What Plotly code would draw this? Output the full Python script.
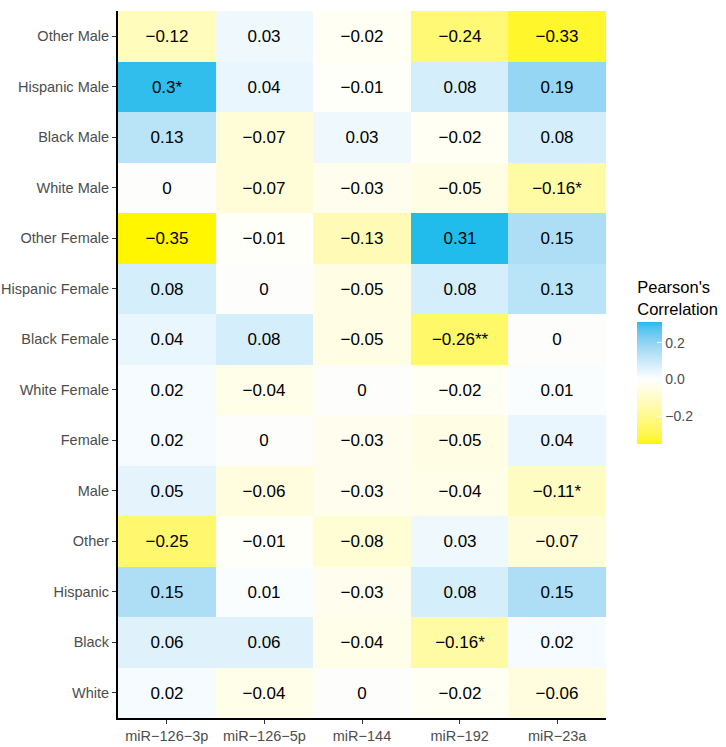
import numpy as np
import plotly.graph_objects as go

rows = ["Other Male", "Hispanic Male", "Black Male", "White Male", "Other Female",
        "Hispanic Female", "Black Female", "White Female", "Female", "Male",
        "Other", "Hispanic", "Black", "White"]
cols = ["miR\u2212126\u22123p", "miR\u2212126\u22125p", "miR\u2212144", "miR\u2212192", "miR\u221223a"]

other_male = [-0.12, 0.03, -0.02, -0.24, -0.33]
hispanic_male = [0.30, 0.04, -0.01, 0.08, 0.19]
black_male = [0.13, -0.07, 0.03, -0.02, 0.08]
white_male = [0.0, -0.07, -0.03, -0.05, -0.16]
other_female = [-0.35, -0.01, -0.13, 0.31, 0.15]
hispanic_female = [0.08, 0.0, -0.05, 0.08, 0.13]
black_female = [0.04, 0.08, -0.05, -0.26, 0.0]
white_female = [0.02, -0.04, 0.0, -0.02, 0.01]
female = [0.02, 0.0, -0.03, -0.05, 0.04]
male = [0.05, -0.06, -0.03, -0.04, -0.11]
other = [-0.25, -0.01, -0.08, 0.03, -0.07]
hispanic = [0.15, 0.01, -0.03, 0.08, 0.15]
black = [0.06, 0.06, -0.04, -0.16, 0.02]
white = [0.02, -0.04, 0.0, -0.02, -0.06]

# significance stars per row
stars_hispanic_male = ["*", "", "", "", ""]
stars_white_male = ["", "", "", "", "*"]
stars_black_female = ["", "", "", "**", ""]
stars_male = ["", "", "", "", "*"]
stars_black = ["", "", "", "*", ""]
empty = ["", "", "", "", ""]

values = [other_male, hispanic_male, black_male, white_male, other_female,
          hispanic_female, black_female, white_female, female, male,
          other, hispanic, black, white]
stars = [empty, stars_hispanic_male, empty, stars_white_male, empty,
         empty, stars_black_female, empty, empty, stars_male,
         empty, empty, stars_black, empty]


def fmt(v):
    s = ("%.2f" % v).rstrip("0").rstrip(".")
    if s in ("-0", ""):
        s = "0"
    return s.replace("-", "\u2212")


text = [[fmt(v) + st for v, st in zip(vr, sr)] for vr, sr in zip(values, stars)]

# Lab interpolation helpers (ggplot-like gradient2)
def srgb_to_lin(c):
    c = np.asarray(c) / 255.0
    return np.where(c <= 0.04045, c / 12.92, ((c + 0.055) / 1.055) ** 2.4)

def lin_to_srgb(c):
    c = np.where(c <= 0.0031308, 12.92 * c, 1.055 * np.clip(c, 0, None) ** (1 / 2.4) - 0.055)
    return np.clip(np.round(c * 255), 0, 255)

M = np.array([[0.4124, 0.3576, 0.1805], [0.2126, 0.7152, 0.0722], [0.0193, 0.1192, 0.9505]])
Minv = np.linalg.inv(M)
WP = np.array([0.95047, 1.0, 1.08883])

def f(t):
    return np.where(t > 0.008856, np.cbrt(t), 7.787 * t + 16 / 116)

def finv(t):
    return np.where(t > 0.206893, t ** 3, (t - 16 / 116) / 7.787)

def rgb_to_lab(rgb):
    xyz = M @ srgb_to_lin(rgb) / WP
    fx, fy, fz = f(xyz)
    return np.array([116 * fy - 16, 500 * (fx - fy), 200 * (fy - fz)])

def lab_to_rgb(lab):
    L, a, b = lab
    fy = (L + 16) / 116
    fx = fy + a / 500
    fz = fy - b / 200
    xyz = finv(np.array([fx, fy, fz])) * WP
    return lin_to_srgb(Minv @ xyz)

def hex2rgb(h):
    h = h.lstrip("#")
    return [int(h[i:i + 2], 16) for i in (0, 2, 4)]

low_lab = rgb_to_lab(hex2rgb("#FFF600"))
mid_lab = rgb_to_lab(hex2rgb("#FFFFFF"))
top_lab = rgb_to_lab(hex2rgb("#22BCEC"))  # colour at the max value 0.31

zmin, zmax = -0.35, 0.31
colorscale = []
for v in np.linspace(zmin, zmax, 34):
    if v < 0:
        t = v / zmin
        lab = mid_lab + (low_lab - mid_lab) * t
    else:
        t = v / zmax
        lab = mid_lab + (top_lab - mid_lab) * t
    r, g, b = lab_to_rgb(lab)
    colorscale.append([float((v - zmin) / (zmax - zmin)), "rgb(%d,%d,%d)" % (r, g, b)])
colorscale[0][0] = 0.0
colorscale[-1][0] = 1.0

font = "Liberation Sans, Arial, sans-serif"

fig = go.Figure(go.Heatmap(
    z=values, x=cols, y=rows, text=text, texttemplate="%{text}",
    textfont=dict(family=font, size=17, color="black"),
    colorscale=colorscale, zmin=zmin, zmax=zmax, xgap=0, ygap=0,
    hoverinfo="skip",
    colorbar=dict(
        title=dict(text="Pearson's<br>Correlation", side="top",
                   font=dict(family=font, size=16.5, color="black")),
        thickness=25, lenmode="pixels", len=166,
        x=1.064, xanchor="left", y=0.505, yanchor="middle",
        outlinewidth=0, ticks="inside", ticklen=5, tickcolor="white",
        tickvals=[-0.2, 0.0, 0.2], ticktext=["\u22120.2", "0.0", "0.2"],
        tickfont=dict(family=font, size=14, color="#4D4D4D"),
        ypad=0, xpad=0,
    ),
))

fig.update_layout(
    width=726, height=747,
    margin=dict(l=118, r=120, t=11, b=29, autoexpand=False),
    plot_bgcolor="white", paper_bgcolor="white",
    font=dict(family=font),
)
fig.update_xaxes(showline=True, linecolor="black", linewidth=2, ticks="outside",
                 ticklen=4, tickcolor="#333333", tickwidth=1, automargin=False,
                 tickfont=dict(family=font, size=14.5, color="#4D4D4D"),
                 showgrid=False, zeroline=False)
fig.update_yaxes(autorange="reversed", showline=True, linecolor="black", linewidth=2,
                 ticks="outside", ticklen=4, tickcolor="#333333", tickwidth=1,
                 automargin=False,
                 tickfont=dict(family=font, size=14.5, color="#4D4D4D"),
                 showgrid=False, zeroline=False)

fig.write_html("out.html", config={"displayModeBar": False},
               post_script="document.body.style.margin='0';document.body.style.overflow='hidden';")
